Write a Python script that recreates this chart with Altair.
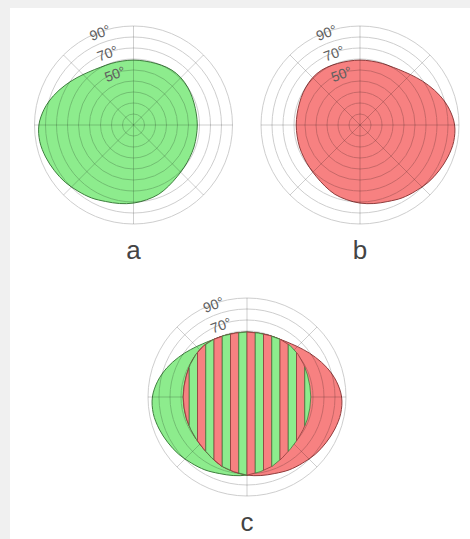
import math
import altair as alt
import pandas as pd

# Visual-field limits in degrees of eccentricity, sampled every 10° of polar
# angle (counter-clockwise from the right-hand horizontal meridian).
ANGLES = list(range(0, 360, 10))
LEFT_EYE = [58, 58, 58.5, 59.5, 60.5, 61, 60.5, 59.5, 59, 59, 59, 59.5,
            60.5, 63, 67, 72, 77.5, 82.5, 86, 86.5, 85, 83, 81, 78.5,
            76.5, 74, 72.5, 71, 69, 67, 64, 61.5, 60, 59, 58.5, 58]
RIGHT_EYE = [86, 82.5, 77.5, 72, 67, 63, 60.5, 59.5, 59, 59, 59, 59.5,
             60.5, 61, 60.5, 59.5, 58.5, 58, 58, 58, 58.5, 59, 60, 61.5,
             64, 67, 69, 71, 72.5, 74, 76.5, 78.5, 81, 83, 85, 86.5]

# Polar grid
RINGS = [10, 20, 30, 40, 50, 60, 70, 80, 90]
SPOKES = [0, 45, 90, 135, 180, 225, 270, 315]
RING_LABELS = [90, 70, 50]
LABEL_BEARING = 110          # polar angle at which ring labels sit
STRIPE_DEG = 7.5             # width of the binocular-overlap stripes

# Panels: letter, centre (canvas px), eyes drawn
PANELS = [("a", 133.5, 125.0, ["left"]),
          ("b", 360.0, 125.0, ["right"]),
          ("c", 247.0, 397.0, ["left", "right"])]

K = 1.1                      # pixels per degree of eccentricity
W, H = 470, 539
PAD_L, PAD_T = 10, 8

GREEN, RED = "#8dec8d", "#f78181"
GREEN_EDGE, RED_EDGE = "#3f7f3f", "#8f3c3c"
FIELDS = {"left": LEFT_EYE, "right": RIGHT_EYE}


def polar(r, ang):
    a = math.radians(ang)
    return K * r * math.cos(a), K * r * math.sin(a)


def clip_half(poly, f):
    out = []
    n = len(poly)
    for j in range(n):
        p, q = poly[j], poly[(j + 1) % n]
        fp, fq = f(p), f(q)
        if fp >= 0:
            out.append(p)
            if fq < 0:
                t = fp / (fp - fq)
                out.append((p[0] + t * (q[0] - p[0]), p[1] + t * (q[1] - p[1])))
        elif fq >= 0:
            t = fp / (fp - fq)
            out.append((p[0] + t * (q[0] - p[0]), p[1] + t * (q[1] - p[1])))
    return out


def clip_convex(subject, clip):
    n = len(clip)
    area = sum(clip[i][0] * clip[(i + 1) % n][1] - clip[(i + 1) % n][0] * clip[i][1]
               for i in range(n))
    s = 1 if area > 0 else -1
    out = subject
    for i in range(n):
        a, b = clip[i], clip[(i + 1) % n]
        out = clip_half(out, lambda p, a=a, b=b: s * ((b[0] - a[0]) * (p[1] - a[1])
                                                      - (b[1] - a[1]) * (p[0] - a[0])))
        if not out:
            break
    return out


shape_rows, ring_rows, spoke_rows, label_rows, letter_rows, stripe_rows = [], [], [], [], [], []
for letter, cx, cy, eyes in PANELS:
    for eye in eyes:
        for i, (ang, r) in enumerate(zip(ANGLES, FIELDS[eye])):
            px, py = polar(r, ang)
            shape_rows.append({"shape": f"{letter}-{eye}", "eye": eye, "idx": i,
                               "x": cx + px, "y": cy - py})
    for rg in RINGS:
        ring_rows.append({"x": cx, "y": cy, "s": (2 * K * rg) ** 2})
    for sp in SPOKES:
        px, py = polar(RINGS[-1], sp)
        spoke_rows.append({"x": cx, "y": cy, "x2": cx + px, "y2": cy - py})
    for lab in RING_LABELS:
        px, py = polar(lab - 1.5, LABEL_BEARING)
        label_rows.append({"x": cx + px, "y": cy - py, "text": f"{lab}°"})
    letter_rows.append({"x": cx, "y": cy + 134, "text": letter})

    if len(eyes) == 2:
        left_poly = [polar(r, a) for a, r in zip(ANGLES, LEFT_EYE)]
        right_poly = [polar(r, a) for a, r in zip(ANGLES, RIGHT_EYE)]
        overlap = clip_convex(left_poly, right_poly)
        w = K * STRIPE_DEG
        for k in range(-14, 14):
            x0, x1 = k * w, (k + 1) * w
            poly = clip_half(overlap, lambda p, x0=x0: p[0] - x0)
            poly = clip_half(poly, lambda p, x1=x1: x1 - p[0])
            if len(poly) < 3:
                continue
            eye = "right" if k % 2 == 0 else "left"
            for i, (px, py) in enumerate(poly):
                stripe_rows.append({"sid": f"s{k}", "eye": eye, "idx": i,
                                    "x": cx + px, "y": cy - py})

xs = alt.Scale(domain=[PAD_L, W], range=[0, W - PAD_L], nice=False, zero=False)
ys = alt.Scale(domain=[PAD_T, H], range=[0, H - PAD_T], nice=False, zero=False)
X = alt.X("x:Q", scale=xs, axis=None)
Y = alt.Y("y:Q", scale=ys, axis=None)
fill_scale = alt.Scale(domain=["left", "right"], range=[GREEN, RED])
edge_scale = alt.Scale(domain=["left", "right"], range=[GREEN_EDGE, RED_EDGE])

fields = alt.Chart(pd.DataFrame(shape_rows)).mark_line(
    interpolate="cardinal-closed", strokeWidth=1
).encode(
    x=X, y=Y,
    fill=alt.Fill("eye:N", scale=fill_scale, legend=None),
    stroke=alt.Stroke("eye:N", scale=edge_scale, legend=None),
    detail="shape:N",
    order="idx:Q",
)

rings = alt.Chart(pd.DataFrame(ring_rows)).mark_point(
    shape="circle", filled=False, color="black", strokeWidth=1, opacity=0.19
).encode(x=X, y=Y, size=alt.Size("s:Q", scale=None, legend=None))

spokes = alt.Chart(pd.DataFrame(spoke_rows)).mark_rule(
    color="black", strokeWidth=1, opacity=0.19
).encode(x=X, y=Y, x2="x2:Q", y2="y2:Q")

ring_labels = alt.Chart(pd.DataFrame(label_rows)).mark_text(
    angle=340, fontSize=14, font="Liberation Sans", color="#606060",
    align="center", baseline="middle"
).encode(x=X, y=Y, text="text:N")

stripes = alt.Chart(pd.DataFrame(stripe_rows)).mark_line(
    interpolate="linear-closed", strokeWidth=0.8
).encode(
    x=X, y=Y,
    fill=alt.Fill("eye:N", scale=fill_scale, legend=None),
    stroke=alt.Stroke("eye:N", scale=fill_scale, legend=None),
    detail="sid:N",
    order="idx:Q",
)

letters = alt.Chart(pd.DataFrame(letter_rows)).mark_text(
    fontSize=26, font="Liberation Sans", color="#444444",
    align="center", baseline="alphabetic"
).encode(x=X, y=Y, text="text:N")

chart = alt.layer(fields, rings, spokes, ring_labels, stripes, letters).properties(
    width=W - PAD_L, height=H - PAD_T,
    background="#f0f0f0",
    padding={"left": PAD_L, "top": PAD_T, "right": 0, "bottom": 0},
    autosize=alt.AutoSizeParams(type="none"),
).configure_view(fill="white", strokeWidth=0)

chart.save("out.html", embed_options={"renderer": "svg", "actions": False})
